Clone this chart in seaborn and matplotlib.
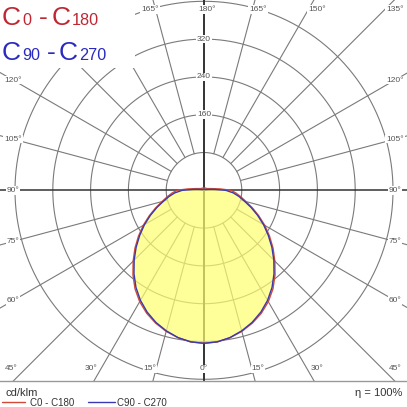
import numpy as np
import pandas as pd
import matplotlib
matplotlib.use("Agg")
import matplotlib.pyplot as plt
from matplotlib.lines import Line2D
from matplotlib.patches import Rectangle
import seaborn as sns

# ---------------- data ----------------
THETA = list(range(0, 181, 5))  # gamma angle, degrees from nadir
I_C0_C180 = [323.8, 322.1, 316.9, 309.1, 299.2, 287.1, 272.2, 254.5, 233.9, 212.1,
             190.8, 169.3, 148.5, 128, 109, 92, 79, 68, 57, 34, 20,
             14, 10.5, 8.5, 7.5, 6.8, 6.3, 6, 5.8, 5.6, 5.5, 5.4, 5.3, 5.3, 5.3,
             5.3, 5.3]
I_C90_C270 = [323.8, 322, 316.5, 308, 297.5, 284.5, 269, 251, 230.5, 209, 187.5,
              166, 145.5, 125, 106, 88.5, 75, 62, 46, 22, 11, 6.5, 4.5, 3.5, 3,
              2.5, 2.5, 2.5, 2.5, 2.5, 2.5, 2.5, 2.5, 2.5, 2.5, 2.5, 2.5]
PLANES = ["C0 - C180", "C90 - C270"]
RINGS = [80, 160, 240, 320, 400]
RING_LABELS = [160, 240, 320]
ANGLES = list(range(0, 181, 15))
UNIT = "cd/klm"
EFFICIENCY = "η = 100%"

# ---------------- style ----------------
sns.set_style("white")
plt.rcParams["font.family"] = ["Liberation Sans", "DejaVu Sans"]

RED = "#d04a3a"
BLUE = "#3a3ab0"
GRID = "#7a7a7a"
DARK = "#333333"

W = H = 407
DPI = 100
AXB = 381.0            # axes bottom in px (from top)
CX, CY = 204.0, 190.3  # polar centre in px
S = 0.4725             # px per cd/klm
LEG_W, LEG_H = 135, 68  # white box behind the title legend (px)

fig = plt.figure(figsize=(W / DPI, H / DPI), dpi=DPI)
fig.patch.set_facecolor("white")
ax = fig.add_axes([0, 1 - AXB / H, 1, AXB / H])

def px2d(px, py):
    return (px - CX) / S, (CY - py) / S

# ---------------- grid ----------------
t = np.linspace(0, 2 * np.pi, 721)
for r in RINGS:
    ax.plot(r * np.cos(t), r * np.sin(t), color=GRID, lw=0.8, zorder=1)
for a in ANGLES:
    if a in (0, 90, 180):
        continue
    ra = np.radians(a)
    for s in (1, -1):
        ax.plot([s * 80 * np.sin(ra), s * 1500 * np.sin(ra)],
                [-80 * np.cos(ra), -1500 * np.cos(ra)],
                color=GRID, lw=0.8, zorder=1)
ax.axvline(0, color=DARK, lw=1.4, zorder=1.5)
ax.axhline(0, color=DARK, lw=1.1, zorder=1.5)

# ---------------- curves ----------------
frames = []
for plane, vals in zip(PLANES, [I_C0_C180, I_C90_C270]):
    ang = np.array(THETA + [-v for v in THETA[::-1]], dtype=float)
    inten = np.array(vals + vals[::-1], dtype=float)
    rad = np.radians(ang)
    frames.append(pd.DataFrame({"x": inten * np.sin(rad),
                                "y": -inten * np.cos(rad),
                                "plane": plane}))
df = pd.concat(frames, ignore_index=True)

outer = df[df["plane"] == PLANES[0]]
inner = df[df["plane"] == PLANES[1]]
ax.fill(outer["x"], outer["y"], color="#ffff70", alpha=0.45, lw=0, zorder=2)
ax.fill(inner["x"], inner["y"], color="#ffff70", alpha=0.45, lw=0, zorder=2)

sns.lineplot(data=df, x="x", y="y", hue="plane",
             palette={PLANES[0]: RED, PLANES[1]: BLUE},
             sort=False, estimator=None, legend=False, lw=1.0, ax=ax, zorder=3)

# ---------------- labels ----------------
lab_kw = dict(fontsize=6, color="#555555", ha="center", va="center", zorder=5,
              bbox=dict(facecolor="white", edgecolor="none", pad=0.6))
for a in ANGLES:
    ra = np.radians(a)
    sides = (1,) if a in (0, 180) else (1, -1)
    for s in sides:
        dx, dy = s * np.sin(ra), np.cos(ra)  # pixel direction (y down)
        cands = []
        if dx > 1e-9:
            cands.append(((W - CX) / dx, "side"))
        if dx < -1e-9:
            cands.append(((0 - CX) / dx, "side"))
        if dy > 1e-9:
            cands.append(((AXB - CY) / dy, "bottom"))
        if dy < -1e-9:
            cands.append(((0 - CY) / dy, "top"))
        tt, edge = min(cands, key=lambda c: c[0])
        if edge == "side":
            px = W - 12 if dx > 0 else 13
            py = CY + (px - CX) / dx * dy if abs(dy) > 1e-9 else CY
        else:
            px = CX + tt * dx + 3 * np.sign(dx)
            px = min(max(px, 11), 395)
            py = 369 if edge == "bottom" else 9.5
        if px < LEG_W and py < LEG_H:
            continue  # hidden behind the title legend in the reference
        x, y = px2d(px, py)
        ax.text(x, y, f"{a}°", **lab_kw)

for r in RING_LABELS:
    ax.text(0, r, str(r), **lab_kw)

# white box behind the title legend
ax.add_patch(Rectangle((0, 1 - LEG_H / AXB), LEG_W / W, LEG_H / AXB,
                       transform=ax.transAxes, facecolor="white",
                       edgecolor="none", zorder=6))

ax.set_xlim(-CX / S, (W - CX) / S)
ax.set_ylim(-(AXB - CY) / S, CY / S)
ax.set_xticks([])
ax.set_yticks([])
ax.set_xlabel("")
ax.set_ylabel("")
for k in ("left", "right", "top"):
    ax.spines[k].set_visible(False)
ax.spines["bottom"].set_color("#999999")
ax.spines["bottom"].set_linewidth(1.0)

# ---------------- title legend (top left) ----------------
def ftxt(px, py, s, size, color, **kw):
    fig.text(px / W, 1 - py / H, s, fontsize=size, color=color, va="baseline",
             zorder=10, **kw)

RED_T = "#bf2733"
BLUE_T = "#2a2ac0"
ftxt(2, 25, "C", 19, RED_T)
ftxt(22.5, 25, "0", 11.7, RED_T)
ftxt(39, 25, "-", 19, RED_T)
ftxt(52, 25, "C", 19, RED_T)
ftxt(72, 25, "180", 11.7, RED_T)
ftxt(2, 60, "C", 19, BLUE_T)
ftxt(22.5, 60, "90", 11.7, BLUE_T)
ftxt(47, 60, "-", 19, BLUE_T)
ftxt(59, 60, "C", 19, BLUE_T)
ftxt(79, 60, "270", 11.7, BLUE_T)

# ---------------- footer ----------------
ftxt(5, 396, UNIT, 8, DARK)
ftxt(402, 396, EFFICIENCY, 8, DARK, ha="right")
fig.add_artist(Line2D([2 / W, 25 / W], [1 - 402 / H] * 2, color=RED, lw=1.0,
                      transform=fig.transFigure))
ftxt(30, 406, PLANES[0], 7, DARK)
fig.add_artist(Line2D([88 / W, 115 / W], [1 - 402 / H] * 2, color=BLUE, lw=1.0,
                      transform=fig.transFigure))
ftxt(117, 406, PLANES[1], 7, DARK)

fig.savefig("out.png", dpi=DPI, facecolor="white")
